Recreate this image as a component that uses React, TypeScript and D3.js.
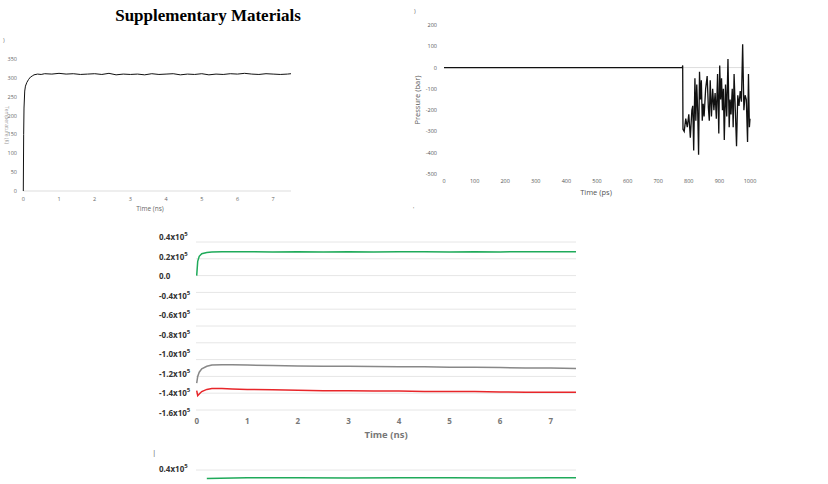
import * as d3 from "d3";

// --- temperature (K) vs time (ns), top left
const tempT = [0, 0.01, 0.02, 0.04, 0.06, 0.1, 0.15, 0.2, 0.25, 0.3, 0.4, 0.5, 0.6, 0.8, 1.0, 1.2, 1.4, 1.6, 1.8, 2.0, 2.2, 2.4, 2.6, 2.8, 3.0, 3.2, 3.4, 3.6, 3.8, 4.0, 4.2, 4.4, 4.6, 4.8, 5.0, 5.2, 5.4, 5.6, 5.8, 6.0, 6.2, 6.4, 6.6, 6.8, 7.0, 7.2, 7.4, 7.5];
const tempK = [0, 150, 220, 265, 278, 288, 296, 302, 305, 308, 310, 309, 311, 310, 312, 310, 311, 309, 310, 311, 309, 312, 308, 310, 309, 310, 308, 311, 309, 310, 311, 308, 310, 309, 311, 308, 310, 309, 311, 310, 312, 310, 309, 311, 310, 309, 310, 311];
const tempXTicks = [0, 1, 2, 3, 4, 5, 6, 7];
const tempYTicks = [0, 50, 100, 150, 200, 250, 300, 350];

// --- pressure (bar) vs time (ps), top right
const presT = [0, 779, 780, 781, 785, 790, 795, 800, 805, 810, 813, 816, 820, 823, 826, 829, 832, 835, 838, 841, 844, 847, 850, 855, 860, 864, 867, 870, 874, 878, 882, 886, 890, 894, 898, 901, 904, 907, 910, 913, 916, 920, 924, 928, 932, 935, 938, 942, 945, 948, 952, 956, 960, 964, 968, 972, 976, 980, 984, 988, 992, 995, 998, 1000];
const presV = [0, 0, 10, -290, -300, -240, -280, -220, -330, -200, -180, -390, -50, -250, -80, -200, -410, -20, -150, -60, -250, -170, -230, -100, -40, -190, -250, -60, -230, -100, -200, -120, -240, -30, -310, 10, -150, -50, -200, -100, -340, -80, -230, 40, -280, -150, -220, -100, -280, -30, -200, -370, -130, -180, -110, -160, 110, -200, -130, -150, -350, -30, -280, -240];
const presXTicks = [0, 100, 200, 300, 400, 500, 600, 700, 800, 900, 1000];
const presYTicks = [200, 100, 0, -100, -200, -300, -400, -500];

// --- energies (x10^5) vs time (ns), middle
const enT = [0, 0.02, 0.05, 0.1, 0.2, 0.3, 0.5, 0.7, 1.0, 1.5, 2.0, 2.5, 3.0, 3.5, 4.0, 4.5, 5.0, 5.5, 6.0, 6.5, 7.0, 7.5];
const enGreen = [0, 0.17, 0.23, 0.26, 0.275, 0.28, 0.285, 0.283, 0.285, 0.28, 0.285, 0.282, 0.285, 0.28, 0.285, 0.283, 0.281, 0.285, 0.282, 0.285, 0.283, 0.285];
const enGray = [-1.28, -1.2, -1.15, -1.11, -1.08, -1.065, -1.06, -1.062, -1.065, -1.07, -1.075, -1.078, -1.08, -1.082, -1.085, -1.085, -1.09, -1.09, -1.095, -1.1, -1.1, -1.105];
const enRed = [-1.37, -1.43, -1.41, -1.38, -1.355, -1.345, -1.345, -1.35, -1.355, -1.36, -1.365, -1.37, -1.37, -1.375, -1.375, -1.38, -1.38, -1.38, -1.385, -1.39, -1.39, -1.39];
const enYLabels = ["0.4", "0.2", "0.0", "-0.4", "-0.6", "-0.8", "-1.0", "-1.2", "-1.4", "-1.6"];
const enXTicks = [0, 1, 2, 3, 4, 5, 6, 7];

// --- partial bottom chart
const botT = [0.2, 1, 2, 3, 4, 5, 6, 7, 7.5];
const botGreen = [0.3, 0.31, 0.31, 0.305, 0.31, 0.31, 0.305, 0.31, 0.31];

const small = "'Open Sans', 'Liberation Sans', sans-serif";

function Sup({ base }: { base: string }) {
  if (base === "0.0") return <tspan>{base}</tspan>;
  return (
    <>
      <tspan>{base}x10</tspan>
      <tspan dy={-4} fontSize={6}>5</tspan>
    </>
  );
}

export default function App() {
  // top left
  const tx = d3.scaleLinear().domain([0, 7.5]).range([23.3, 291]);
  const ty = d3.scaleLinear().domain([0, 350]).range([191, 59]);
  const tLine = d3.line<number>().x((d) => tx(d)).y((_, i) => ty(tempK[i]));

  // top right
  const px = d3.scaleLinear().domain([0, 1000]).range([444, 750]);
  const py = d3.scaleLinear().domain([200, -500]).range([25, 174]);
  const pLine = d3.line<number>().x((d) => px(d)).y((_, i) => py(presV[i]));

  // middle
  const ex = d3.scaleLinear().domain([0, 7.5]).range([196.7, 576]);
  const ey = d3.scaleLinear().domain([0.4, -1.6]).range([242, 410]);
  const eLabelY = d3.scalePoint<string>().domain(enYLabels).range([237, 413]);
  const grid = d3.range(0, 11).map((i) => 0.4 - i * 0.2);
  const mk = (vals: number[]) => d3.line<number>().x((d) => ex(d)).y((_, i) => ey(vals[i]))(enT) ?? "";

  // bottom
  const by = d3.scaleLinear().domain([0.4, 0.2]).range([470, 487]);
  const bLine = d3.line<number>().x((d) => ex(d)).y((_, i) => by(botGreen[i]));

  return (
    <svg width={828} height={484} style={{ position: "absolute", left: 0, top: 0, background: "#fff" }}>
      <text x={208} y={21} textAnchor="middle" fontFamily="'Liberation Serif', serif" fontWeight="bold" fontSize={17}>
        Supplementary Materials
      </text>

      {/* top left */}
      <g fontFamily={small} fontSize={5.5} fill="#666">
        <text x={3} y={42}>)</text>
        <line x1={tx(0)} x2={tx(7.5)} y1={ty(0)} y2={ty(0)} stroke="#ddd" />
        {tempYTicks.map((t) => (
          <text key={t} x={17} y={ty(t) + 2} textAnchor="end">{t}</text>
        ))}
        {tempXTicks.map((t) => (
          <text key={t} x={tx(t)} y={201} textAnchor="middle">{t}</text>
        ))}
        <text x={150} y={211} textAnchor="middle" fontSize={6.5}>Time (ns)</text>
        <text transform="translate(5,125) rotate(90)" textAnchor="middle" fontSize={5} fill="#999">Temperature (K)</text>
        <path d={tLine(tempT) ?? ""} fill="none" stroke="#111" strokeWidth={1} />
      </g>

      {/* top right */}
      <g fontFamily={small} fontSize={5.5} fill="#555">
        <text x={414} y={13}>)</text>
        <text x={413} y={211}>'</text>
        <line x1={px(0)} x2={px(1000)} y1={py(0)} y2={py(0)} stroke="#ddd" />
        {presYTicks.map((t) => (
          <text key={t} x={437} y={py(t) + 2} textAnchor="end">{t}</text>
        ))}
        {presXTicks.map((t) => (
          <text key={t} x={px(t)} y={183} textAnchor="middle">{t}</text>
        ))}
        <text x={596} y={195} textAnchor="middle" fontSize={7.5}>Time (ps)</text>
        <text transform="translate(420,100) rotate(-90)" textAnchor="middle" fontSize={7.5}>Pressure (bar)</text>
        <path d={pLine(presT) ?? ""} fill="none" stroke="#111" strokeWidth={1.3} />
      </g>

      {/* middle */}
      <g fontFamily={small} fontWeight="bold" fontSize={8} fill="#333">
        {grid.map((g) => (
          <line key={g} x1={196} x2={576} y1={ey(g)} y2={ey(g)} stroke="#e6e6e6" />
        ))}
        {enYLabels.map((l) => (
          <text key={l} x={159} y={(eLabelY(l) ?? 0) + 3}><Sup base={l} /></text>
        ))}
        {enXTicks.map((t) => (
          <text key={t} x={ex(t)} y={424} textAnchor="middle" fill="#777">{t}</text>
        ))}
        <text x={386} y={438} textAnchor="middle" fontSize={9.5} fill="#777">Time (ns)</text>
        <path d={mk(enGreen)} fill="none" stroke="#1faa5a" strokeWidth={1.5} />
        <path d={mk(enGray)} fill="none" stroke="#888" strokeWidth={1.5} />
        <path d={mk(enRed)} fill="none" stroke="#e8262a" strokeWidth={1.5} />
      </g>

      {/* bottom partial */}
      <g fontFamily={small} fontWeight="bold" fontSize={8} fill="#333">
        <text x={152} y={455} fontWeight="normal" fill="#666">|</text>
        <line x1={196} x2={576} y1={470} y2={470} stroke="#e6e6e6" />
        <text x={159} y={472}><Sup base="0.4" /></text>
        <path d={bLine(botT) ?? ""} fill="none" stroke="#1faa5a" strokeWidth={1.5} />
      </g>
    </svg>
  );
}
